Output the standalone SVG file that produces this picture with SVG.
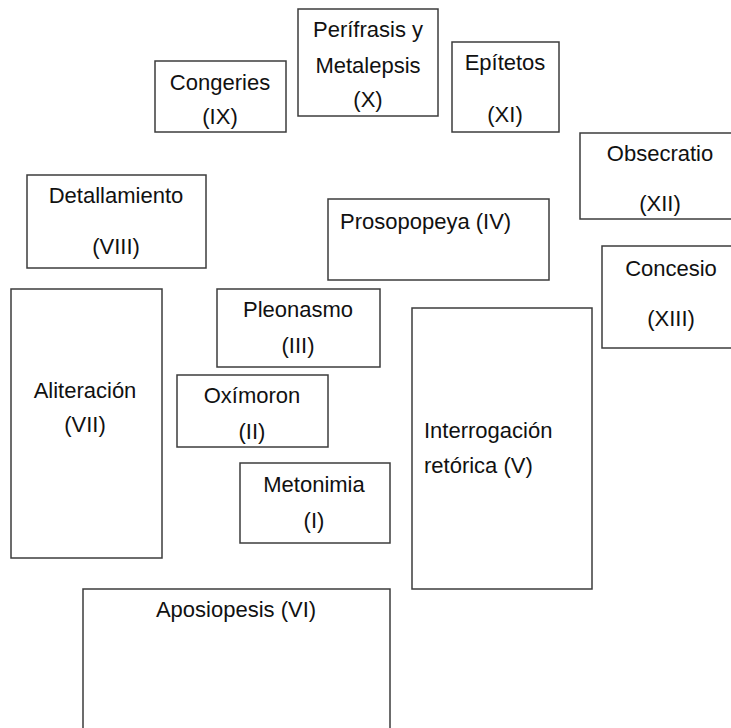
<svg xmlns="http://www.w3.org/2000/svg" width="731" height="728" viewBox="0 0 731 728">
<style>
.b{fill:#fff;stroke:#3c3c3c;stroke-width:1.5}
text{font-family:"Liberation Sans",Arial,sans-serif;font-size:22px;fill:#111}
.c{text-anchor:middle}
</style>
<rect width="731" height="728" fill="#fff"/>
<g id="connectors"></g>
<g id="congeries"><rect class="b" x="155" y="61" width="131" height="71"/><text class="c" x="220" y="90">Congeries</text><text class="c" x="220" y="124">(IX)</text></g>
<g id="perifrasis"><rect class="b" x="298" y="9" width="140" height="107"/><text class="c" x="368" y="37">Perífrasis  y</text><text class="c" x="368" y="73">Metalepsis</text><text class="c" x="368" y="107">(X)</text></g>
<g id="epitetos"><rect class="b" x="452" y="42" width="107" height="90"/><text class="c" x="505" y="70">Epítetos</text><text class="c" x="505" y="122">(XI)</text></g>
<g id="obsecratio"><rect class="b" x="580" y="133" width="160" height="86"/><text class="c" x="660" y="161">Obsecratio</text><text class="c" x="660" y="211">(XII)</text></g>
<g id="concesio"><rect class="b" x="602" y="246" width="140" height="102"/><text class="c" x="671" y="276">Concesio</text><text class="c" x="671" y="326">(XIII)</text></g>
<g id="detallamiento"><rect class="b" x="27" y="175" width="179" height="93"/><text class="c" x="116" y="203">Detallamiento</text><text class="c" x="116" y="254">(VIII)</text></g>
<g id="prosopopeya"><rect class="b" x="328" y="199" width="221" height="81"/><text x="340" y="229">Prosopopeya (IV)</text></g>
<g id="aliteracion"><rect class="b" x="11" y="289" width="151" height="269"/><text class="c" x="85" y="398">Aliteración</text><text class="c" x="85" y="432">(VII)</text></g>
<g id="pleonasmo"><rect class="b" x="217" y="289" width="163" height="78"/><text class="c" x="298" y="317">Pleonasmo</text><text class="c" x="298" y="353">(III)</text></g>
<g id="oximoron"><rect class="b" x="177" y="375" width="151" height="72"/><text class="c" x="252" y="403">Oxímoron</text><text class="c" x="252" y="439">(II)</text></g>
<g id="metonimia"><rect class="b" x="240" y="463" width="150" height="80"/><text class="c" x="314" y="492">Metonimia</text><text class="c" x="314" y="528">(I)</text></g>
<g id="interrogacion"><rect class="b" x="412" y="308" width="180" height="281"/><text x="424" y="438">Interrogación</text><text x="424" y="473">retórica (V)</text></g>
<g id="aposiopesis"><rect class="b" x="83" y="589" width="307" height="150"/><text class="c" x="236" y="617">Aposiopesis  (VI)</text></g>
</svg>
